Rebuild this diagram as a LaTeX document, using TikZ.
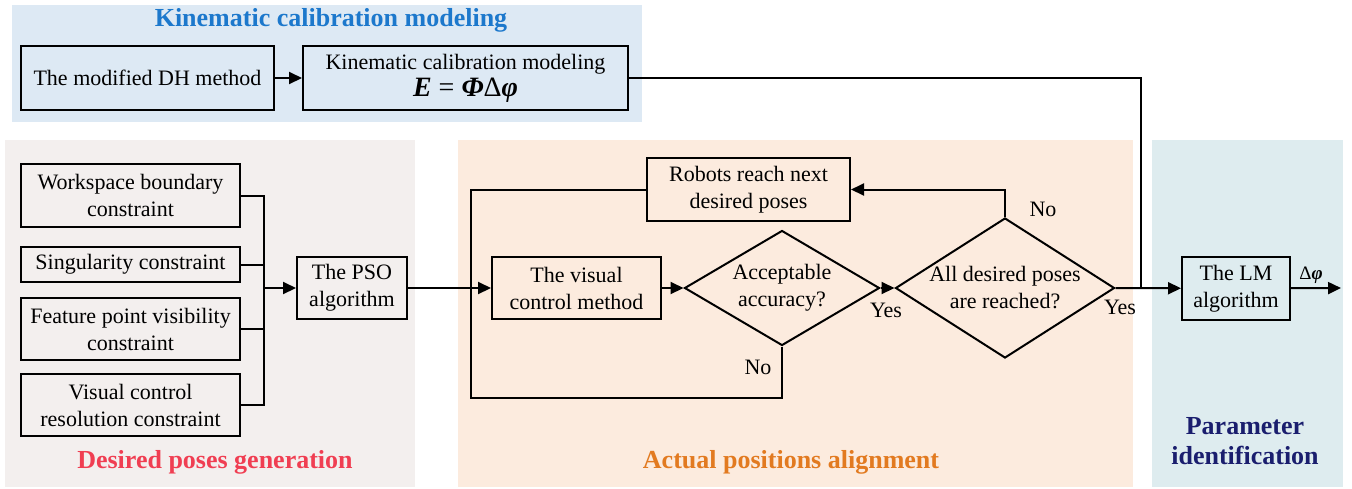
\documentclass[tikz,border=0pt]{standalone}
\usepackage{fontspec}
\setmainfont{Liberation Serif}
\usepackage{xcolor}
\usetikzlibrary{positioning,shapes.geometric,arrows.meta}
\definecolor{kinbg}{RGB}{221,233,244}
\definecolor{genbg}{RGB}{243,239,238}
\definecolor{alibg}{RGB}{252,235,222}
\definecolor{idbg}{RGB}{222,236,239}
\definecolor{kintxt}{RGB}{28,120,204}
\definecolor{gentxt}{RGB}{240,62,82}
\definecolor{alitxt}{RGB}{226,122,32}
\definecolor{idtxt}{RGB}{26,30,110}
\tikzset{
  zone/.style     = {draw=none},
  zonehdr/.style  = {font=\fontsize{13}{15}\selectfont\bfseries, align=center, inner sep=0pt},
  blk/.style      = {draw=black, line width=1pt, font=\fontsize{11}{13.5}\selectfont, align=center, inner sep=2pt},
  dec/.style      = {blk, diamond, inner sep=0pt},
  lbl/.style      = {font=\fontsize{11}{13.5}\selectfont, inner sep=0pt},
  ln/.style       = {draw=black, line width=1pt},
  arr/.style      = {ln, -{Triangle[length=6.5pt,width=6pt]}},
}

\begin{document}
\begin{tikzpicture}[x=0.5pt,y=-0.5pt]
  \useasboundingbox (0,0) rectangle (1352,488);

  % background zones
  \fill[kinbg] (12,5) rectangle (642,122);
  \fill[genbg] (5,140) rectangle (415,487);
  \fill[alibg] (458,140) rectangle (1133,487);
  \fill[idbg]  (1152,140) rectangle (1343,487);

  \node[zonehdr, text=kintxt] (hkin) at (331,20) {Kinematic calibration modeling};
  \node[zonehdr, text=gentxt] (hgen) at (215,462) {Desired poses generation};
  \node[zonehdr, text=alitxt] (hali) at (791,462) {Actual positions alignment};
  \node[zonehdr, text=idtxt]  (hid)  at (1245,441) {Parameter\\identification};

  % kinematic model
  \node[blk, minimum width=126.5pt, minimum height=32pt] (dh) at (147.5,78) {The modified DH method};
  \node[blk, inner ysep=1pt, minimum width=162.5pt, minimum height=32pt] (kin) at (465.5,78)
    {Kinematic calibration modeling\\
     {\fontsize{14}{15}\selectfont\bfseries\itshape E\/ \normalfont= \bfseries\itshape Φ\normalfont Δ\bfseries\itshape φ}};

  % constraints
  \node[blk, minimum width=109.5pt, minimum height=31.5pt] (ws)   at (130.5,195.5) {Workspace boundary\\constraint};
  \node[blk, minimum width=109.5pt, minimum height=17.5pt] (sing) at (130.5,264.5) {Singularity constraint};
  \node[blk, minimum width=109.5pt, minimum height=31pt]   (feat) at (130.5,329)   {Feature point visibility\\constraint};
  \node[blk, minimum width=109.5pt, minimum height=31pt]   (vres) at (130.5,405)   {Visual control\\resolution constraint};
  \node[blk, minimum width=55pt, minimum height=31pt]      (pso)  at (352,288)     {The PSO\\algorithm};

  % alignment loop
  \node[blk, minimum width=84.5pt, minimum height=31pt]    (vis)    at (576.5,288) {The visual\\control method};
  \node[blk, minimum width=101.5pt, minimum height=31.5pt] (robots) at (748.5,189.5) {Robots reach next\\desired poses};
  \node[dec, aspect=1.7, minimum width=97.5pt, minimum height=57.5pt] (acc) at (782,288) {Acceptable\\accuracy?};
  \node[dec, aspect=1.56, inner xsep=-3pt, minimum width=109.5pt, minimum height=70pt] (alld) at (1005,288) {All desired poses\\are reached?};

  % identification
  \node[blk, minimum width=54pt, minimum height=31.5pt] (lm) at (1236,288.5) {The LM\\algorithm};

  \coordinate (bus) at (264,288);
  \coordinate (lp)  at (471,288);
  \coordinate (lpb) at (471,398);
  \coordinate (jn)  at (1141,288);
  \coordinate (out) at (1341,288);

  % connectors
  \draw[arr] (dh) -- (kin);
  \foreach \c in {ws,sing,feat,vres} {
    \draw[ln] (\c.east) -| (bus);
  }
  \draw[arr] (bus) -- (pso);
  \draw[arr] (pso) -- (vis);
  \draw[ln] (robots.west) -| (lp);
  \draw[ln] (acc.south) |- (lpb) -- (lp);
  \draw[arr] (vis) -- (acc);
  \draw[arr] (acc) -- (alld);
  \draw[arr] (alld.north) |- (robots.east);
  \draw[ln] (kin.east) -| (jn);
  \draw[arr] (alld.east) -- (lm);
  \draw[arr] (lm) -- (out);

  % branch labels
  \node[lbl] (yes1) at (886,310) {Yes};
  \node[lbl] (yes2) at (1120,307) {Yes};
  \node[lbl] (no1)  at (1043,209) {No};
  \node[lbl] (no2)  at (758,367) {No};
  \node[lbl, font=\fontsize{9.5}{11}\selectfont] (dphi) at (1311,275) {Δ\textbf{\textit{φ}}};
\end{tikzpicture}
\end{document}
